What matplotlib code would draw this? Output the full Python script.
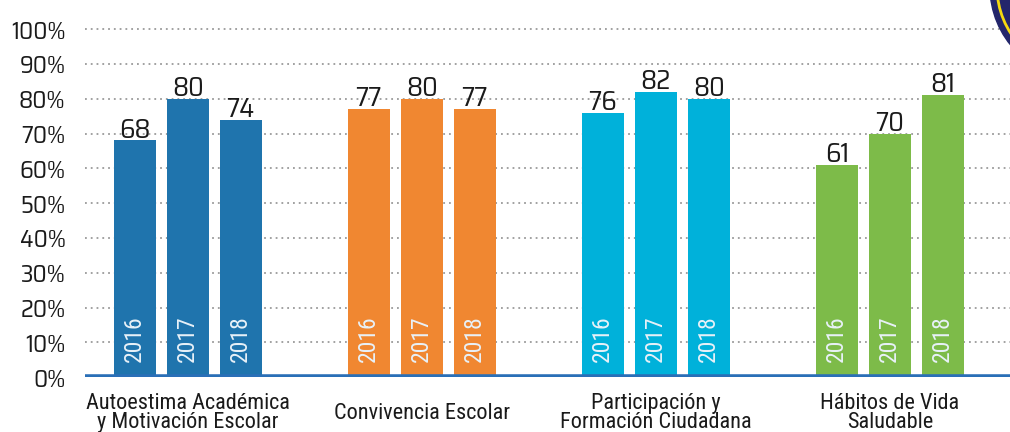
import numpy as np
import matplotlib
matplotlib.use("Agg")
import matplotlib.pyplot as plt
from matplotlib.patches import Circle
import matplotlib.transforms as mtransforms

plt.rcParams["font.family"] = ["Roboto Condensed", "DejaVu Sans"]
NUM_FONT = ["Saira SemiCondensed", "DejaVu Sans"]

categories = ["Autoestima Académica\ny Motivación Escolar",
              "Convivencia Escolar",
              "Participación y\nFormación Ciudadana",
              "Hábitos de Vida\nSaludable"]
years = ["2016", "2017", "2018"]
values = [
    [68, 80, 74],
    [77, 80, 77],
    [76, 82, 80],
    [61, 70, 81],
]
colors = ["#1f74ad", "#f08731", "#00b1da", "#7dbb49"]

fig = plt.figure(figsize=(10.1, 4.32), dpi=100)
ax = fig.add_axes([0.084, 0.127, 0.916, 0.870])

bar_w = 1.0
step = 1.262
group_gap = 5.57

for gi, (vals, col) in enumerate(zip(values, colors)):
    centre = gi * group_gap
    xs = centre + (np.arange(len(vals)) - 1) * step
    ax.bar(xs, vals, width=bar_w, color=col, zorder=2)
    for x, v, yr in zip(xs, vals, years):
        ax.text(x, v - 0.6, f"{v}", ha="center", va="bottom",
                fontsize=19.5, color="#1a1a1a", family=NUM_FONT, zorder=4)
        ax.text(x, 4.3, yr, ha="center", va="bottom", rotation=90,
                fontsize=17, color="#e8f1f8", zorder=4)
    trans = mtransforms.blended_transform_factory(ax.transData, fig.transFigure)
    ax.text(centre, 0.043, categories[gi], transform=trans, ha="center",
            va="center", fontsize=16, color="#1a1a1a", linespacing=0.88)

ax.set_xlim(-2.45, 19.57)
ax.set_ylim(0, 108)
ax.set_yticks(np.arange(0, 101, 10))
ax.set_yticklabels([f"{t}%" for t in range(0, 101, 10)], fontsize=17.5,
                   color="#1a1a1a", family=NUM_FONT)
ax.tick_params(axis="y", length=0, pad=14)
ax.tick_params(axis="x", length=0, labelbottom=False)
for t in range(10, 101, 10):
    ax.axhline(t, color="#9a9a9a", lw=1.3, ls=(0, (1, 2.2)), zorder=1)
for s in ax.spines.values():
    s.set_visible(False)
ax.axhline(0, color="#2a6fb7", lw=4, zorder=3)

# emblem partially visible at top right corner
fig.patches.append(Circle((1082, 445), 92, transform=None,
                          facecolor="#23266b", edgecolor="#23266b", lw=1,
                          zorder=5))
fig.patches.append(Circle((1082, 445), 85, transform=None, fill=False,
                          edgecolor="#f5d90f", lw=2, zorder=6))

fig.savefig("out.png", dpi=100)
